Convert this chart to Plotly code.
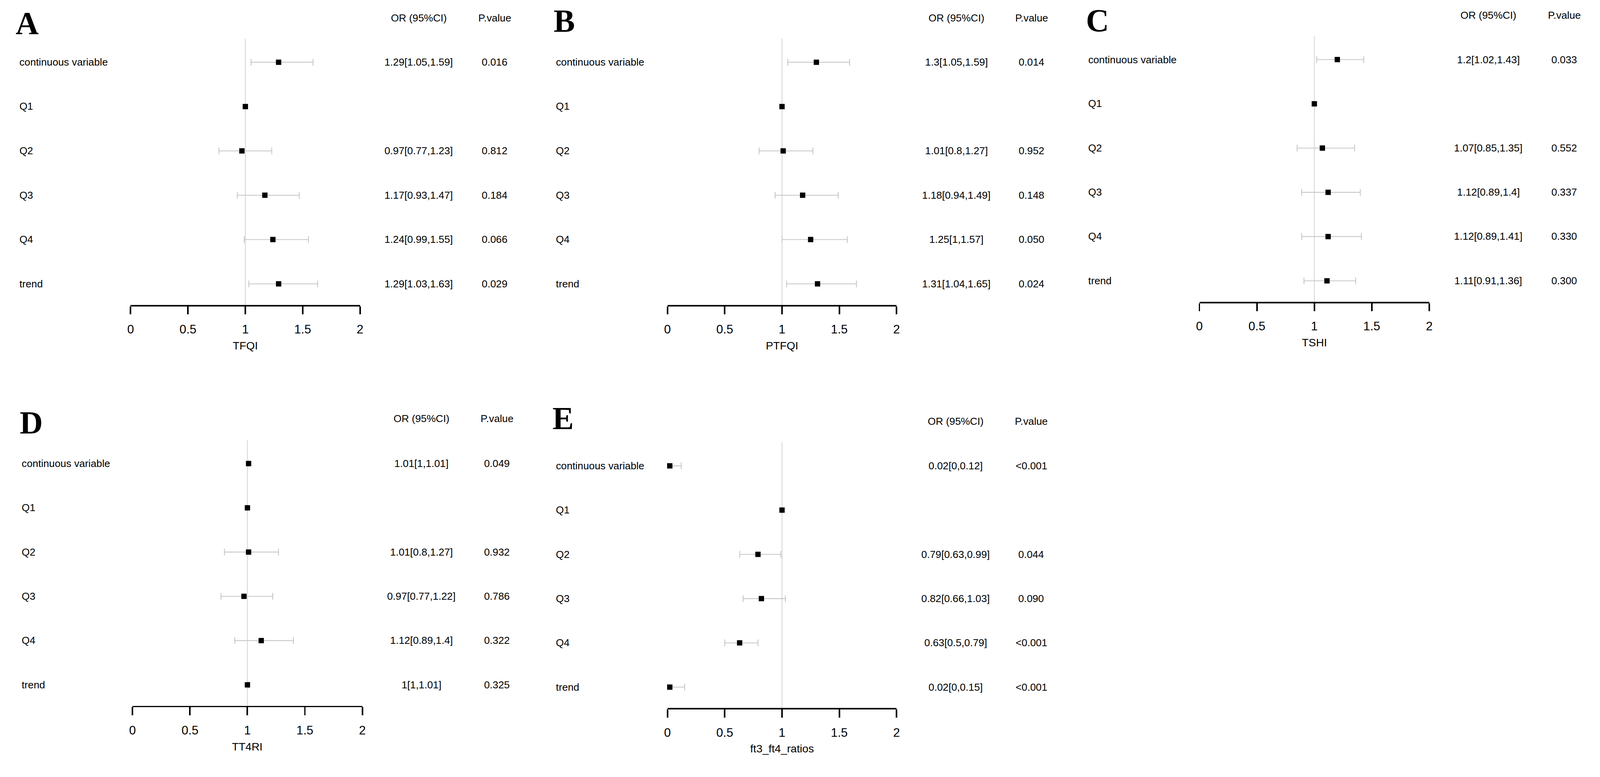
import plotly.graph_objects as go

# rows of every forest plot, top to bottom
rows = ["continuous variable", "Q1", "Q2", "Q3", "Q4", "trend"]

# A - TFQI
tfqi_or = [1.29, 1, 0.97, 1.17, 1.24, 1.29]
tfqi_lo = [1.05, None, 0.77, 0.93, 0.99, 1.03]
tfqi_hi = [1.59, None, 1.23, 1.47, 1.55, 1.63]
tfqi_p = ["0.016", "", "0.812", "0.184", "0.066", "0.029"]

# B - PTFQI
ptfqi_or = [1.3, 1, 1.01, 1.18, 1.25, 1.31]
ptfqi_lo = [1.05, None, 0.8, 0.94, 1, 1.04]
ptfqi_hi = [1.59, None, 1.27, 1.49, 1.57, 1.65]
ptfqi_p = ["0.014", "", "0.952", "0.148", "0.050", "0.024"]

# C - TSHI
tshi_or = [1.2, 1, 1.07, 1.12, 1.12, 1.11]
tshi_lo = [1.02, None, 0.85, 0.89, 0.89, 0.91]
tshi_hi = [1.43, None, 1.35, 1.4, 1.41, 1.36]
tshi_p = ["0.033", "", "0.552", "0.337", "0.330", "0.300"]

# D - TT4RI
tt4ri_or = [1.01, 1, 1.01, 0.97, 1.12, 1]
tt4ri_lo = [1, None, 0.8, 0.77, 0.89, 1]
tt4ri_hi = [1.01, None, 1.27, 1.22, 1.4, 1.01]
tt4ri_p = ["0.049", "", "0.932", "0.786", "0.322", "0.325"]

# E - ft3/ft4 ratio
ratio_or = [0.02, 1, 0.79, 0.82, 0.63, 0.02]
ratio_lo = [0, None, 0.63, 0.66, 0.5, 0]
ratio_hi = [0.12, None, 0.99, 1.03, 0.79, 0.15]
ratio_p = ["<0.001", "", "0.044", "0.090", "<0.001", "<0.001"]

x_ticks = [0, 0.5, 1, 1.5, 2]

W, H = 4208, 1990
FONT = "Liberation Sans, Arial, sans-serif"
LETTER_FONT = "Liberation Serif, Times New Roman, serif"


def fmt(v):
    return f"{v:g}"


# panel placement in pixels: axis ends, axis line, top of ref line, text columns
panels = [
    dict(letter="A", name="TFQI", o=tfqi_or, lo=tfqi_lo, hi=tfqi_hi, p=tfqi_p,
         x0=336, x2=942, axis=802, top=102, lab=40, orx=1097, px=1298,
         head=48, lx=63, ly=60, title=909),
    dict(letter="B", name="PTFQI", o=ptfqi_or, lo=ptfqi_lo, hi=ptfqi_hi, p=ptfqi_p,
         x0=1754, x2=2359, axis=802, top=102, lab=1457, orx=2517, px=2716,
         head=48, lx=1481, ly=55, title=909),
    dict(letter="C", name="TSHI", o=tshi_or, lo=tshi_lo, hi=tshi_hi, p=tshi_p,
         x0=3159, x2=3766, axis=794, top=95, lab=2863, orx=3922, px=4123,
         head=40, lx=2890, ly=53, title=901),
    dict(letter="D", name="TT4RI", o=tt4ri_or, lo=tt4ri_lo, hi=tt4ri_hi, p=tt4ri_p,
         x0=341, x2=948, axis=1857, top=1158, lab=46, orx=1104, px=1304,
         head=1102, lx=74, ly=1111, title=1965),
    dict(letter="E", name="ft3_ft4_ratios", o=ratio_or, lo=ratio_lo, hi=ratio_hi, p=ratio_p,
         x0=1754, x2=2359, axis=1863, top=1164, lab=1457, orx=2515, px=2715,
         head=1109, lx=1478, ly=1100, title=1970),
]

ypos = [6, 5, 4, 3, 2, 1]

fig = go.Figure()
annotations = []
shapes = []

for i, pn in enumerate(panels):
    n = "" if i == 0 else str(i + 1)
    xa, ya = "x" + n, "y" + n
    plus = [None if h is None else h - o for o, h in zip(pn["o"], pn["hi"])]
    minus = [None if l is None else o - l for o, l in zip(pn["o"], pn["lo"])]
    fig.add_trace(go.Scatter(
        x=pn["o"], y=ypos, mode="markers", xaxis=xa, yaxis=ya,
        marker=dict(symbol="square", size=14, color="black", line=dict(width=0)),
        error_x=dict(type="data", array=plus, arrayminus=minus, symmetric=False,
                     color="#c6c6c6", thickness=2.2, width=9),
        cliponaxis=False, showlegend=False, hoverinfo="skip",
    ))

    fig.layout["xaxis" + n] = dict(
        domain=[pn["x0"] / W, pn["x2"] / W], range=[0, 2], anchor=ya,
        tickvals=x_ticks, ticktext=[fmt(t) for t in x_ticks],
        showline=True, linewidth=4, linecolor="black",
        ticks="outside", ticklen=21, tickwidth=3.5, tickcolor="black",
        ticklabelstandoff=12,
        showgrid=False, zeroline=False,
        tickfont=dict(family=FONT, size=32, color="black"),
    )
    fig.layout["yaxis" + n] = dict(
        domain=[1 - pn["axis"] / H, 1 - pn["top"] / H], range=[0.527, 6.53],
        anchor=xa, visible=False, showgrid=False, zeroline=False,
    )

    # reference line at OR = 1
    shapes.append(dict(type="line", xref=xa, yref=ya + " domain", x0=1, x1=1, y0=0, y1=1,
                       line=dict(color="#d2d2d2", width=2), layer="below"))

    txt = dict(family=FONT, size=27, color="black")
    for r, y, o, lo, hi, p in zip(rows, ypos, pn["o"], pn["lo"], pn["hi"], pn["p"]):
        annotations.append(dict(text=r, xref="paper", x=pn["lab"] / W, xanchor="left",
                                yref=ya, y=y, yanchor="middle", showarrow=False, font=txt))
        if lo is not None:
            annotations.append(dict(text=f"{fmt(o)}[{fmt(lo)},{fmt(hi)}]", xref="paper",
                                    x=pn["orx"] / W, xanchor="center", yref=ya, y=y,
                                    yanchor="middle", showarrow=False, font=txt))
        if p:
            annotations.append(dict(text=p, xref="paper", x=pn["px"] / W, xanchor="center",
                                    yref=ya, y=y, yanchor="middle", showarrow=False, font=txt))

    head = dict(family=FONT, size=27, color="black")
    annotations.append(dict(text="OR (95%CI)", xref="paper", x=pn["orx"] / W, xanchor="center",
                            yref="paper", y=1 - pn["head"] / H, yanchor="middle",
                            showarrow=False, font=head))
    annotations.append(dict(text="P.value", xref="paper", x=pn["px"] / W, xanchor="center",
                            yref="paper", y=1 - pn["head"] / H, yanchor="middle",
                            showarrow=False, font=head))
    annotations.append(dict(text=pn["name"], xref=xa, x=1, xanchor="center",
                            yref="paper", y=1 - pn["title"] / H, yanchor="middle",
                            showarrow=False, font=dict(family=FONT, size=29, color="black")))
    annotations.append(dict(text="<b>" + pn["letter"] + "</b>", xref="paper", x=pn["lx"] / W,
                            xanchor="center", yref="paper", y=1 - pn["ly"] / H,
                            yanchor="middle", showarrow=False,
                            font=dict(family=LETTER_FONT, size=84, color="black")))

fig.update_layout(
    width=W, height=H, autosize=False,
    margin=dict(l=0, r=0, t=0, b=0),
    paper_bgcolor="white", plot_bgcolor="white",
    annotations=annotations, shapes=shapes,
)

# scale the fixed-size figure (same factor both ways) to the page width
fit_js = (
    "var gd = document.getElementById('{plot_id}');"
    "document.documentElement.style.overflow = 'hidden';"
    "document.body.style.margin = '0';"
    "document.body.style.overflow = 'hidden';"
    "gd.style.transformOrigin = '0 0';"
    "function fitPlot() {"
    "  var s = window.innerWidth / " + str(W) + ";"
    "  gd.style.transform = 'scale(' + s + ')';"
    "}"
    "fitPlot();"
    "window.addEventListener('resize', fitPlot);"
)

fig.write_html("out.html", post_script=fit_js, config={"displayModeBar": False})
